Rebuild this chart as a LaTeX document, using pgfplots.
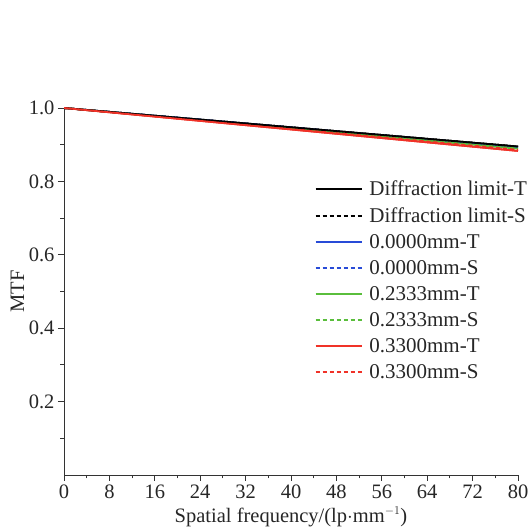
\documentclass[border=0pt]{standalone}
\usepackage{pgfplots}
\pgfplotsset{compat=1.18}
\usepackage{fontspec}
\setmainfont{Liberation Serif}
\definecolor{cblue}{RGB}{40,75,215}
\definecolor{cgreen}{RGB}{90,190,60}
\definecolor{cred}{RGB}{240,50,40}
\begin{document}
\begin{tikzpicture}[font=\fontsize{20.5bp}{24bp}\selectfont]
\begin{axis}[
  at={(0,0)}, anchor=south west,
  scale only axis, width=454bp, height=367bp,
  xmin=0, xmax=80, ymin=0, ymax=1.0,
  axis lines*=left,
  axis line style={line width=1pt, black!80},
  xtick={0,8,...,80}, ytick={0.2,0.4,0.6,0.8,1.0},
  minor xtick={4,12,...,76}, minor ytick={0.1,0.3,0.5,0.7,0.9},
  tick align=outside,
  major tick length=6bp, minor tick length=3.5bp,
  tick style={line width=0.9pt, black!80},
  ticklabel style={font=\fontsize{20.5bp}{24bp}\selectfont, text=black!85},
  label style={font=\fontsize{20.5bp}{24bp}\selectfont, text=black!85},
  yticklabel style={/pgf/number format/fixed,/pgf/number format/fixed zerofill,/pgf/number format/precision=1},
  /pgf/number format/assume math mode=true,
  xlabel={Spatial frequency/(lp$\cdot$mm\textsuperscript{\fontsize{12bp}{14bp}\selectfont$-1$})},
  ylabel={MTF},
  xlabel style={yshift=-2bp},
  ylabel style={yshift=-2bp},
  legend cell align=left,
  legend style={draw=none, fill=none, at={(1.027,0.81)}, anchor=north east,
    row sep=6.5bp, column sep=5bp, inner sep=1bp, text=black!85, font=\fontsize{21bp}{24bp}\selectfont,
    nodes={inner sep=2bp}},
  legend image code/.code={\draw[#1, line width=1.8pt] (0bp,0bp) -- (46bp,0bp);},
  every axis plot/.append style={line width=1.8pt},
  dsh/.style={dash pattern=on 4bp off 3bp},
]
\addplot[black] coordinates {(0,1.0) (8,0.9895) (16,0.979) (24,0.9685) (32,0.958) (40,0.9475) (48,0.937) (56,0.9265) (64,0.916) (72,0.9055) (80,0.895)};
\addlegendentry{Diffraction limit-T}
\addplot[black, dsh] coordinates {(0,1.0) (8,0.9895) (16,0.979) (24,0.9685) (32,0.958) (40,0.9475) (48,0.937) (56,0.9265) (64,0.916) (72,0.9055) (80,0.895)};
\addlegendentry{Diffraction limit-S}
\addplot[cblue] coordinates {(0,1.0) (8,0.9893) (16,0.9786) (24,0.968) (32,0.9573) (40,0.9466) (48,0.9359) (56,0.9252) (64,0.9145) (72,0.9038) (80,0.893)};
\addlegendentry{0.0000mm-T}
\addplot[cblue, dsh] coordinates {(0,1.0) (8,0.9893) (16,0.9786) (24,0.968) (32,0.9573) (40,0.9466) (48,0.9359) (56,0.9252) (64,0.9145) (72,0.9038) (80,0.893)};
\addlegendentry{0.0000mm-S}
\addplot[cgreen] coordinates {(0,1.0) (8,0.9889) (16,0.9778) (24,0.9667) (32,0.9556) (40,0.9445) (48,0.9334) (56,0.9223) (64,0.9112) (72,0.9001) (80,0.889)};
\addlegendentry{0.2333mm-T}
\addplot[cgreen, dsh] coordinates {(0,1.0) (8,0.989) (16,0.978) (24,0.967) (32,0.956) (40,0.945) (48,0.934) (56,0.923) (64,0.912) (72,0.901) (80,0.890)};
\addlegendentry{0.2333mm-S}
\addplot[cred] coordinates {(0,1.0) (8,0.9883) (16,0.9766) (24,0.9649) (32,0.9532) (40,0.9415) (48,0.9298) (56,0.9181) (64,0.9064) (72,0.8947) (80,0.883)};
\addlegendentry{0.3300mm-T}
\addplot[cred, dsh] coordinates {(0,1.0) (8,0.9886) (16,0.9772) (24,0.9658) (32,0.9544) (40,0.943) (48,0.9316) (56,0.9202) (64,0.9088) (72,0.8974) (80,0.886)};
\addlegendentry{0.3300mm-S}
\addplot[black, forget plot] coordinates {(0,1.0) (8,0.9895) (16,0.979) (24,0.9685) (32,0.958) (40,0.9475) (48,0.937) (56,0.9265) (64,0.916) (72,0.9055) (80,0.895)};
\addplot[cred, forget plot] coordinates {(0,1.0) (8,0.9883) (16,0.9766) (24,0.9649) (32,0.9532) (40,0.9415) (48,0.9298) (56,0.9181) (64,0.9064) (72,0.8947) (80,0.883)};
\end{axis}
\path[use as bounding box] (-64bp,-51bp) rectangle (468bp,475bp);
\end{tikzpicture}
\end{document}
